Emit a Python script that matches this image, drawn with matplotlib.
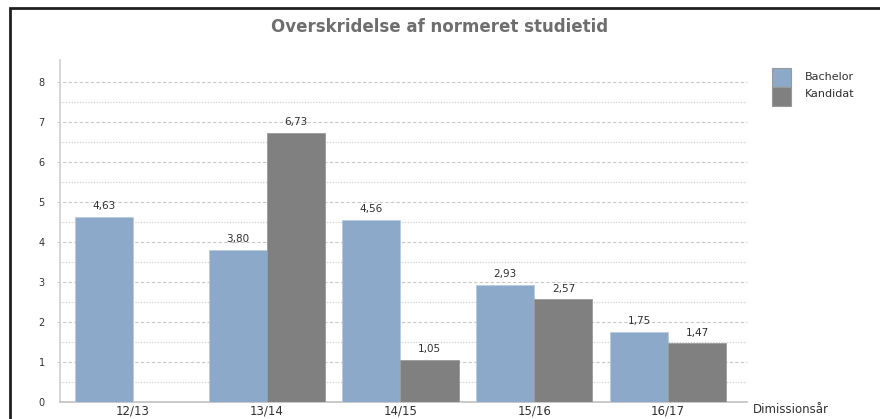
import numpy as np
import matplotlib.pyplot as plt
from matplotlib.patches import Rectangle

years = ["12/13", "13/14", "14/15", "15/16", "16/17"]
bachelor = [4.63, 3.80, 4.56, 2.93, 1.75]
kandidat = [np.nan, 6.73, 1.05, 2.57, 1.47]

c_bach = "#8DA9C9"
c_kand = "#808080"
grid_c = "#c8c8c8"
txt_c = "#303030"

plt.rcParams["font.family"] = ["DejaVu Sans"]

fig = plt.figure(figsize=(8.8, 4.19), dpi=100)
W, H = 880, 419

# frame around the whole chart
fig.add_artist(Rectangle((10 / W, -0.1), 1.2, 1 - 8 / H + 0.1, transform=fig.transFigure,
                         fill=False, edgecolor="#202020", linewidth=2))

ax = fig.add_axes([60 / W, 1 - 402 / H, (747 - 60) / W, (402 - 60) / H])

x = np.arange(len(years))
w = 0.435
b1 = ax.bar(x - w / 2, bachelor, w, color=c_bach, edgecolor="#b8cce0", linewidth=0.6, zorder=3)
b2 = ax.bar(x + w / 2, kandidat, w, color=c_kand, edgecolor="#9a9a9a", linewidth=0.6, zorder=3)

for bars, vals in ((b1, bachelor), (b2, kandidat)):
    for r, v in zip(bars, vals):
        if np.isnan(v):
            continue
        ax.annotate(f"{v:.2f}".replace(".", ","), (r.get_x() + r.get_width() / 2, v),
                    xytext=(0, 4), textcoords="offset points", ha="center", va="bottom",
                    fontsize=7.5, color=txt_c)

ax.set_xlim(-0.545, 4.59)
ax.set_ylim(0, 8.55)
ax.set_xticks(x)
ax.set_xticklabels(years, fontsize=8.5, color=txt_c)
ax.set_yticks(range(9))
ax.set_yticklabels([str(i) for i in range(9)], fontsize=7, color=txt_c)
ax.tick_params(axis="x", length=0, pad=2)
ax.tick_params(axis="y", length=0, pad=11)

for i in range(1, 9):
    ax.plot([-0.004, 1], [i / 8.55] * 2, transform=ax.transAxes, clip_on=False,
            color=grid_c, linewidth=0.8, linestyle=(0, (3, 2)), zorder=1)
for i in range(8):
    ax.axhline(i + 0.5, color=grid_c, linewidth=0.8, linestyle=(0, (1, 1.5)), zorder=1)

for s in ("top", "right"):
    ax.spines[s].set_visible(False)
ax.spines["left"].set_color("#d0d0d0")
ax.spines["bottom"].set_color("#c0c0c0")
ax.spines["left"].set_linewidth(1.2)
ax.spines["bottom"].set_linewidth(1.2)

fig.text(440 / W, 1 - 27 / H, "Overskridelse af normeret studietid", ha="center", va="center",
         fontsize=12, fontweight="bold", color="#6e6e6e")
fig.text(753 / W, 1 - 409 / H, "Dimissionsår", ha="left", va="center", fontsize=8.5, color=txt_c)

# legend, drawn by hand to get the stacked swatches
for (y0, col, lab, ty) in ((68, c_bach, "Bachelor", 77), (87, c_kand, "Kandidat", 94)):
    fig.add_artist(Rectangle((772 / W, 1 - (y0 + 19) / H), 19 / W, 19 / H,
                             transform=fig.transFigure, facecolor=col,
                             edgecolor="#999999", linewidth=0.8))
    fig.text(805 / W, 1 - ty / H, lab, ha="left", va="center", fontsize=8, color=txt_c)

fig.savefig("out.png", dpi=100)
